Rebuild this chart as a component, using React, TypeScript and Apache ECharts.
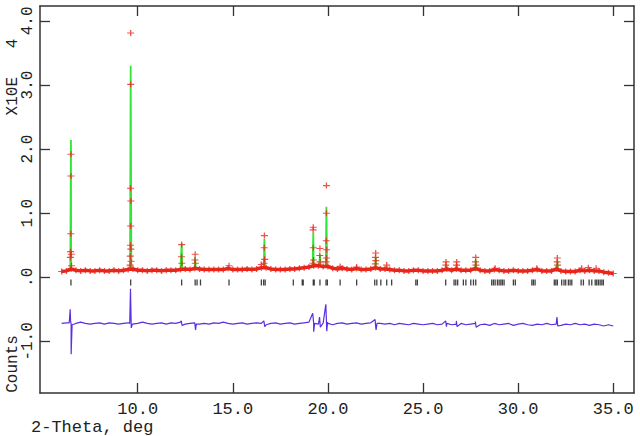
import React, { useEffect, useRef } from "react";
import * as echarts from "echarts";

// ---- data ----
const GRID_START = 6.0;
const GRID_STEP = 0.25;

// observed background (every 0.25 deg from 6.0 to 35.0), units of 10^4 counts
const obsBackground = [
  0.09, 0.10, 0.13, 0.11, 0.10, 0.11, 0.10, 0.10, 0.11, 0.10,
  0.10, 0.11, 0.10, 0.11, 0.12, 0.13, 0.11, 0.11, 0.10, 0.11,
  0.11, 0.10, 0.11, 0.11, 0.11, 0.12, 0.13, 0.12, 0.14, 0.13,
  0.12, 0.12, 0.12, 0.12, 0.12, 0.14, 0.12, 0.12, 0.12, 0.13,
  0.12, 0.13, 0.15, 0.15, 0.13, 0.12, 0.12, 0.12, 0.13, 0.13,
  0.14, 0.15, 0.16, 0.18, 0.18, 0.17, 0.17, 0.14, 0.13, 0.14,
  0.13, 0.12, 0.14, 0.12, 0.12, 0.13, 0.15, 0.13, 0.13, 0.12,
  0.11, 0.11, 0.10, 0.10, 0.11, 0.11, 0.10, 0.10, 0.10, 0.10,
  0.11, 0.13, 0.11, 0.13, 0.11, 0.11, 0.11, 0.14, 0.11, 0.10,
  0.10, 0.12, 0.11, 0.10, 0.10, 0.11, 0.10, 0.10, 0.10, 0.11,
  0.12, 0.10, 0.10, 0.10, 0.13, 0.10, 0.09, 0.09, 0.09, 0.11,
  0.10, 0.11, 0.10, 0.10, 0.08, 0.07, 0.06,
];

// observed points on the peaks [2theta, value]
const obsPeakPoints: [number, number][] = [
  [6.49, 1.92], [6.49, 1.58], [6.48, 0.68], [6.47, 0.40], [6.51, 0.36], [6.46, 0.31], [6.52, 0.18],
  [9.63, 3.81], [9.63, 3.01], [9.62, 1.39], [9.64, 1.19], [9.63, 0.80], [9.62, 0.50], [9.64, 0.44],
  [9.61, 0.33], [9.65, 0.25], [9.60, 0.19],
  [12.31, 0.51], [12.30, 0.32], [12.32, 0.22],
  [13.02, 0.36], [13.01, 0.27], [13.03, 0.22],
  [14.80, 0.18],
  [16.50, 0.20], [16.66, 0.65], [16.65, 0.46], [16.67, 0.28], [16.64, 0.22],
  [19.23, 0.78], [19.22, 0.74], [19.23, 0.46], [19.24, 0.27], [19.21, 0.22],
  [19.58, 0.45], [19.57, 0.34], [19.59, 0.24],
  [19.92, 1.43], [19.92, 1.00], [19.91, 0.57], [19.93, 0.43], [19.92, 0.30], [19.90, 0.24],
  [20.64, 0.17], [21.51, 0.16],
  [22.51, 0.38], [22.50, 0.31], [22.52, 0.26], [22.49, 0.21],
  [23.09, 0.19],
  [26.21, 0.24], [26.20, 0.19],
  [26.77, 0.24], [26.76, 0.19],
  [27.77, 0.31], [27.76, 0.24], [27.78, 0.19],
  [28.79, 0.14], [30.98, 0.14],
  [32.06, 0.30], [32.05, 0.24], [32.07, 0.19],
  [33.34, 0.14], [33.69, 0.15], [34.10, 0.14],
];

// calculated peaks: [position, top, base]
const calcPeaks: [number, number, number][] = [
  [6.49, 2.14, 0.12], [9.63, 3.30, 0.13], [12.31, 0.53, 0.12], [13.02, 0.31, 0.13],
  [14.80, 0.16, 0.13], [16.66, 0.60, 0.15], [19.23, 0.70, 0.17], [19.58, 0.36, 0.18],
  [19.92, 1.10, 0.17], [20.64, 0.16, 0.14], [21.51, 0.15, 0.13], [22.51, 0.32, 0.14],
  [23.09, 0.17, 0.13], [26.21, 0.20, 0.12], [26.77, 0.20, 0.12], [27.77, 0.27, 0.12],
  [32.06, 0.26, 0.11],
];

// difference curve (obs - calc, offset), same 0.25 deg grid
const diffBackground = [
  -0.72, -0.71, -0.73, -0.72, -0.70, -0.72, -0.73, -0.72, -0.71, -0.73,
  -0.71, -0.72, -0.73, -0.72, -0.71, -0.73, -0.72, -0.70, -0.72, -0.73,
  -0.72, -0.71, -0.73, -0.71, -0.72, -0.70, -0.73, -0.72, -0.71, -0.73,
  -0.72, -0.73, -0.71, -0.72, -0.70, -0.72, -0.73, -0.72, -0.71, -0.73,
  -0.72, -0.71, -0.72, -0.74, -0.72, -0.71, -0.73, -0.72, -0.71, -0.73,
  -0.72, -0.71, -0.70, -0.72, -0.73, -0.71, -0.72, -0.74, -0.72, -0.71,
  -0.73, -0.72, -0.71, -0.73, -0.72, -0.71, -0.74, -0.72, -0.73, -0.72,
  -0.74, -0.72, -0.73, -0.74, -0.72, -0.73, -0.74, -0.73, -0.72, -0.74,
  -0.73, -0.72, -0.74, -0.73, -0.72, -0.74, -0.73, -0.72, -0.74, -0.73,
  -0.75, -0.72, -0.74, -0.73, -0.72, -0.75, -0.73, -0.72, -0.74, -0.75,
  -0.73, -0.74, -0.72, -0.74, -0.73, -0.75, -0.73, -0.74, -0.72, -0.74,
  -0.73, -0.75, -0.73, -0.74, -0.76, -0.74, -0.76,
];

const diffPeakPoints: [number, number][] = [
  [6.40, -0.71], [6.45, -0.50], [6.47, -0.68], [6.50, -1.20], [6.55, -0.74],
  [9.58, -0.72], [9.62, -0.18], [9.66, -0.79], [9.72, -0.73],
  [12.29, -0.68], [12.33, -0.75],
  [13.00, -0.70], [13.04, -0.82], [13.08, -0.73],
  [16.63, -0.68], [16.68, -0.77],
  [19.20, -0.56], [19.25, -0.85], [19.30, -0.72],
  [19.56, -0.62], [19.60, -0.78],
  [19.89, -0.42], [19.94, -0.84], [19.98, -0.70],
  [22.48, -0.66], [22.53, -0.82], [22.58, -0.72],
  [26.19, -0.68], [26.23, -0.77],
  [26.75, -0.68], [26.79, -0.77],
  [27.75, -0.69], [27.79, -0.78],
  [32.04, -0.62], [32.08, -0.76],
];

// reflection positions (2theta)
const reflections = [
  6.49, 9.63, 12.31, 13.02, 13.12, 13.3, 14.8, 16.5, 16.62, 16.7,
  18.18, 18.65, 18.7, 19.23, 19.28, 19.58, 19.9, 19.97, 20.64, 21.51,
  22.46, 22.57, 22.78, 23.09, 23.35, 24.62, 24.7, 26.19, 26.63, 26.72,
  26.82, 27.12, 27.25, 27.51, 27.65, 27.77, 28.61, 28.7, 28.79, 28.91,
  29.0, 29.09, 29.17, 29.26, 29.75, 29.85, 30.72, 30.8, 30.89, 31.9,
  31.98, 32.06, 32.29, 32.41, 32.5, 32.64, 32.73, 32.82, 33.31, 33.43,
  33.73, 33.87, 34.05, 34.13, 34.22, 34.31, 34.4, 34.48,
];
const REFLECTION_LEVEL = -0.081;

const xTicks = [10, 15, 20, 25, 30, 35];
const yTicks = [-1, 0, 1, 2, 3, 4];
const X_MIN = 4.863;
const X_MAX = 36.09;
const Y_MIN = -1.805;
const Y_MAX = 4.232;

const MONO = '"Liberation Mono", "DejaVu Sans Mono", monospace';
const FRAME = "#333";

export default function App() {
  const ref = useRef<HTMLDivElement>(null);

  useEffect(() => {
    if (!ref.current) return;
    const chart = echarts.init(ref.current, undefined, { renderer: "svg" });

    const gridX = obsBackground.map((_, i) => +(GRID_START + i * GRID_STEP).toFixed(2));
    const bandData = gridX.map((x, i) => [x, obsBackground[i]]);
    const obsData = [...bandData, ...obsPeakPoints];
    const calcData = [
      ...bandData,
      ...calcPeaks.flatMap(([p, top, base]) => [
        [p - 0.035, base],
        [p, top],
        [p + 0.035, base],
      ]),
    ].sort((a, b) => a[0] - b[0]);
    const diffData = [
      ...gridX.map((x, i) => [x, diffBackground[i]]),
      ...diffPeakPoints,
    ].sort((a, b) => a[0] - b[0]);
    const tickData = reflections.map((x) => [x, REFLECTION_LEVEL]);

    const axisLine = { show: true, onZero: false, lineStyle: { color: FRAME, width: 1.5 } };
    const tickStyle = { color: FRAME, width: 1.3 };

    const option: any = {
      animation: false,
      grid: { left: 40, right: 6, top: 6, bottom: 43 },
      xAxis: [
        {
          type: "value",
          position: "bottom",
          min: X_MIN,
          max: X_MAX,
          axisLine,
          axisTick: { show: true, inside: true, length: 10, customValues: xTicks, lineStyle: tickStyle },
          axisLabel: {
            customValues: xTicks,
            formatter: (v: number) => v.toFixed(1),
            fontFamily: MONO,
            fontSize: 17,
            color: "#222",
            margin: 8,
          },
          splitLine: { show: false },
        },
        {
          type: "value",
          position: "top",
          min: X_MIN,
          max: X_MAX,
          axisLine,
          axisTick: { show: true, inside: true, length: 10, customValues: xTicks, lineStyle: tickStyle },
          axisLabel: { show: false },
          splitLine: { show: false },
        },
      ],
      yAxis: [
        {
          type: "value",
          position: "left",
          min: Y_MIN,
          max: Y_MAX,
          axisLine,
          axisTick: { show: true, inside: true, length: 10, customValues: yTicks, lineStyle: tickStyle },
          axisLabel: {
            customValues: yTicks,
            rotate: 90,
            align: "center",
            verticalAlign: "bottom",
            formatter: (v: number) => (Math.abs(v) < 1e-9 ? ".0" : v.toFixed(1)),
            fontFamily: MONO,
            fontSize: 16,
            color: "#222",
            margin: 4,
          },
          splitLine: { show: false },
        },
        {
          type: "value",
          position: "right",
          min: Y_MIN,
          max: Y_MAX,
          axisLine,
          axisTick: { show: true, inside: true, length: 10, customValues: yTicks, lineStyle: tickStyle },
          axisLabel: { show: false },
          splitLine: { show: false },
        },
      ],
      series: [
        {
          name: "calc",
          type: "line",
          data: calcData,
          showSymbol: false,
          symbol: "none",
          z: 2,
          lineStyle: { color: "#33e633", width: 1.8 },
        },
        {
          name: "band",
          type: "line",
          data: bandData,
          showSymbol: false,
          symbol: "none",
          z: 3,
          lineStyle: { color: "#e8261b", width: 3.5 },
        },
        {
          name: "obs",
          type: "scatter",
          data: obsData,
          symbol: "path://M0,5L10,5M5,0L5,10",
          symbolSize: [7, 6],
          z: 4,
          itemStyle: { color: "#e8261b", borderColor: "#e8261b", borderWidth: 1.2 },
        },
        {
          name: "diff",
          type: "line",
          data: diffData,
          showSymbol: false,
          symbol: "none",
          z: 2,
          lineStyle: { color: "#5a2fe0", width: 1.2 },
        },
        {
          name: "reflections",
          type: "scatter",
          data: tickData,
          symbol: "rect",
          symbolSize: [1.3, 6],
          z: 2,
          itemStyle: { color: "#111" },
        },
      ],
      graphic: [
        {
          type: "text",
          x: 13,
          y: 77,
          rotation: Math.PI / 2,
          style: { text: "X10E   4", font: `16px ${MONO}`, fill: "#222", align: "center", verticalAlign: "middle" },
        },
        {
          type: "text",
          x: 13,
          y: 364,
          rotation: Math.PI / 2,
          style: { text: "Counts", font: `16px ${MONO}`, fill: "#222", align: "center", verticalAlign: "middle" },
        },
        {
          type: "text",
          x: 31,
          y: 427,
          style: { text: "2-Theta, deg", font: `17px ${MONO}`, fill: "#222", align: "left", verticalAlign: "middle" },
        },
      ],
    };

    chart.setOption(option);
    return () => chart.dispose();
  }, []);

  return <div ref={ref} style={{ width: 640, height: 436, position: "absolute", left: 0, top: 0, background: "#fff" }} />;
}
